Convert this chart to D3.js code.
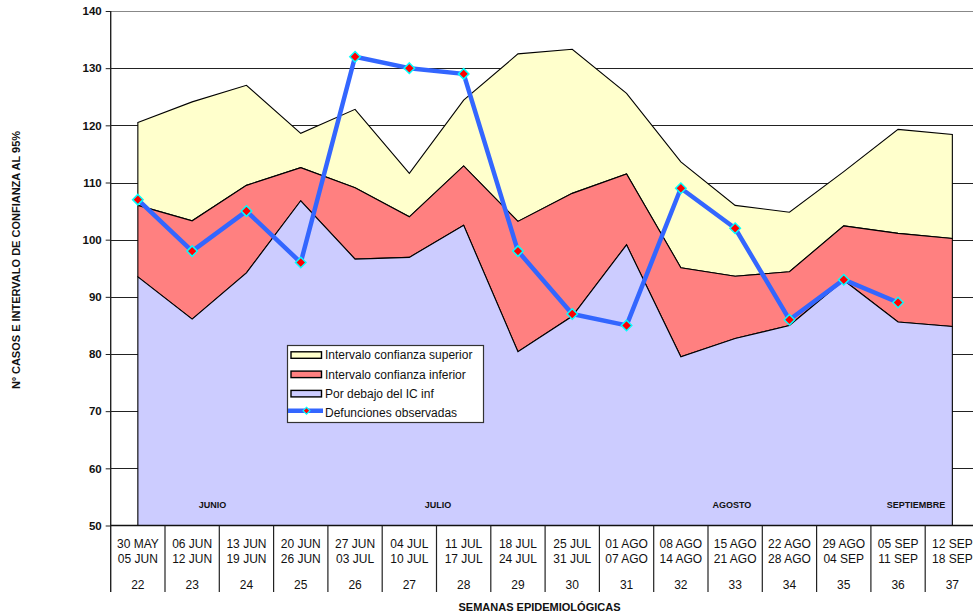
<!DOCTYPE html>
<html>
<head>
<meta charset="utf-8">
<script src="https://cdn.jsdelivr.net/npm/d3@7"></script>
<style>
  body { margin: 0; background: #fff; }
  svg { display: block; font-family: Arial, "Liberation Sans", sans-serif; }
</style>
</head>
<body>
<div id="root"></div>
<script>
// semanas epidemiologicas
var semanas = [22, 23, 24, 25, 26, 27, 28, 29, 30, 31, 32, 33, 34, 35, 36, 37];
var fechaIni = ["30 MAY", "06 JUN", "13 JUN", "20 JUN", "27 JUN", "04 JUL", "11 JUL", "18 JUL",
                "25 JUL", "01 AGO", "08 AGO", "15 AGO", "22 AGO", "29 AGO", "05 SEP", "12 SEP"];
var fechaFin = ["05 JUN", "12 JUN", "19 JUN", "26 JUN", "03 JUL", "10 JUL", "17 JUL", "24 JUL",
                "31 JUL", "07 AGO", "14 AGO", "21 AGO", "28 AGO", "04 SEP", "11 SEP", "18 SEP"];

// niveles de cada banda (valor absoluto del borde superior)
var icInf  = [93.5, 86.1, 94.2, 106.8, 96.6, 96.9, 102.5, 80.4, 86.6, 99.1, 79.5, 82.7, 85.0, 92.9, 85.6, 84.8];
var media  = [106.0, 103.3, 109.5, 112.6, 109.1, 104.0, 112.9, 103.2, 108.1, 111.5, 95.1, 93.6, 94.4, 102.4, 101.1, 100.2];
var icSup  = [120.5, 124.1, 127.0, 118.6, 122.8, 111.6, 124.4, 132.5, 133.3, 125.6, 113.6, 106.0, 104.8, 111.9, 119.3, 118.4];
var defunciones = [107, 98, 105, 96, 132, 130, 129, 98, 87, 85, 109, 102, 86, 93, 89, null];

var yTicks = [50, 60, 70, 80, 90, 100, 110, 120, 130, 140];

// meses (posicion en semanas)
var meses = ["JUNIO", "JULIO", "AGOSTO", "SEPTIEMBRE"];
var mesPos = [23.375, 27.53, 32.94, 36.33];

var legendNames = ["Intervalo confianza superior", "Intervalo confianza inferior",
                   "Por debajo del IC inf", "Defunciones observadas"];

function drawChart() {
  var W = 973, H = 613;
  var left = 110.7, top = 11, bottom = 525.5;
  var bw = 54.3;

  var svg = d3.select("#root").append("svg")
      .attr("width", W)
      .attr("height", H);

  // scales
  var x = d3.scaleBand()
      .domain(semanas)
      .range([left, left + bw * semanas.length])
      .padding(0);
  var y = d3.scaleLinear()
      .domain([50, 140])
      .range([bottom, top]);

  function cx(w) { return x(w) + x.bandwidth() / 2; }
  var xw = d3.scaleLinear().domain([22, 23]).range([cx(22), cx(23)]);

  // gridlines (behind areas)
  svg.append("g").selectAll("line")
    .data(yTicks.filter(function(d) { return d > 50; }))
    .enter().append("line")
      .attr("x1", left).attr("x2", W)
      .attr("y1", function(d) { return Math.round(y(d)) + 0.5; })
      .attr("y2", function(d) { return Math.round(y(d)) + 0.5; })
      .attr("stroke", function(d) { return d === 140 ? "#888" : "#222"; })
      .attr("stroke-width", 1);

  var idx = d3.range(semanas.length);

  function band(lo, hi, fill) {
    var area = d3.area()
        .x(function(i) { return cx(semanas[i]); })
        .y0(function(i) { return lo ? y(lo[i]) : y(50); })
        .y1(function(i) { return y(hi[i]); });
    svg.append("path")
      .datum(idx)
      .attr("d", area)
      .attr("fill", fill)
      .attr("stroke", "#000")
      .attr("stroke-width", 1.1)
      .attr("stroke-linejoin", "miter");
  }

  band(media, icSup, "#FFFFCC");
  band(icInf, media, "#FF8080");
  band(null, icInf, "#CCCCFF");

  // month labels
  svg.append("g").selectAll("text")
    .data(meses)
    .enter().append("text")
      .attr("x", function(d, i) { return xw(mesPos[i]); })
      .attr("y", 508.3)
      .attr("text-anchor", "middle")
      .attr("font-size", "9px")
      .attr("font-weight", "bold")
      .attr("fill", "#111")
      .text(function(d) { return d; });

  // observed deaths line
  var obs = idx.filter(function(i) { return defunciones[i] != null; });
  var line = d3.line()
      .x(function(i) { return cx(semanas[i]); })
      .y(function(i) { return y(defunciones[i]); });
  svg.append("path")
    .datum(obs)
    .attr("d", line)
    .attr("fill", "none")
    .attr("stroke", "#3366FF")
    .attr("stroke-width", 4.5)
    .attr("stroke-linejoin", "round");

  var diamond = d3.symbol().type(d3.symbolDiamond2).size(70);
  svg.append("g").selectAll("path")
    .data(obs)
    .enter().append("path")
      .attr("d", diamond)
      .attr("transform", function(i) { return "translate(" + cx(semanas[i]) + "," + y(defunciones[i]) + ")"; })
      .attr("fill", "#FF0000")
      .attr("stroke", "#00FFFF")
      .attr("stroke-width", 1.5);

  // y axis
  var yAxis = svg.append("g")
      .attr("transform", "translate(" + left + ",0)")
      .call(d3.axisLeft(y).tickValues(yTicks).tickSize(5).tickPadding(4));
  yAxis.select(".domain").remove();
  yAxis.selectAll(".tick line").attr("stroke", "#222");
  yAxis.selectAll("text")
      .attr("font-size", "11.5px")
      .attr("font-weight", "bold")
      .attr("font-family", "Arial, 'Liberation Sans', sans-serif")
      .attr("fill", "#111");

  svg.append("line")
    .attr("x1", left).attr("x2", left)
    .attr("y1", top).attr("y2", 592)
    .attr("stroke", "#222").attr("stroke-width", 1.4);
  svg.append("line")
    .attr("x1", left).attr("x2", W)
    .attr("y1", bottom).attr("y2", bottom)
    .attr("stroke", "#111").attr("stroke-width", 1.4);

  // category separators + labels
  var cat = svg.append("g");
  cat.selectAll("line")
    .data(semanas.slice(1).concat([null]))
    .enter().append("line")
      .attr("x1", function(d, i) { return x(semanas[i]) + bw; })
      .attr("x2", function(d, i) { return x(semanas[i]) + bw; })
      .attr("y1", bottom).attr("y2", 592)
      .attr("stroke", "#222").attr("stroke-width", 1.2);

  var lbl = cat.selectAll("g.lbl")
    .data(semanas)
    .enter().append("g")
      .attr("class", "lbl")
      .attr("transform", function(d) { return "translate(" + cx(d) + ",0)"; })
      .attr("text-anchor", "middle")
      .attr("font-size", "12px")
      .attr("fill", "#111");
  lbl.append("text").attr("y", 547.7).text(function(d, i) { return fechaIni[i]; });
  lbl.append("text").attr("y", 563.3).text(function(d, i) { return fechaFin[i]; });
  lbl.append("text").attr("y", 589.3).text(function(d) { return d; });

  // axis titles
  svg.append("text")
    .attr("x", 539.5).attr("y", 611)
    .attr("text-anchor", "middle")
    .attr("font-size", "11px")
    .attr("font-weight", "bold")
    .attr("fill", "#111")
    .text("SEMANAS EPIDEMIOLÓGICAS");

  svg.append("text")
    .attr("transform", "translate(19.5,260) rotate(-90)")
    .attr("text-anchor", "middle")
    .attr("font-size", "11px")
    .attr("font-weight", "bold")
    .attr("fill", "#111")
    .text("Nº CASOS E INTERVALO DE CONFIANZA AL 95%");

  // legend
  var lg = svg.append("g");
  lg.append("rect")
    .attr("x", 287.5).attr("y", 345.5)
    .attr("width", 196).attr("height", 77)
    .attr("fill", "#fff")
    .attr("stroke", "#333").attr("stroke-width", 1.2);

  var fills = ["#FFFFCC", "#FF8080", "#CCCCFF"];
  var rowY = [359.3, 378.6, 397.9, 417.2];
  legendNames.forEach(function(name, i) {
    if (i < 3) {
      lg.append("rect")
        .attr("x", 291).attr("y", rowY[i] - 7.5)
        .attr("width", 30.5).attr("height", 6.5)
        .attr("fill", fills[i])
        .attr("stroke", "#000").attr("stroke-width", 1.4);
    } else {
      lg.append("line")
        .attr("x1", 288).attr("x2", 323)
        .attr("y1", rowY[i] - 6.5).attr("y2", rowY[i] - 6.5)
        .attr("stroke", "#3366FF").attr("stroke-width", 4.5);
      lg.append("path")
        .attr("d", d3.symbol().type(d3.symbolDiamond2).size(30))
        .attr("transform", "translate(306.5," + (rowY[i] - 6.5) + ")")
        .attr("fill", "#FF0000")
        .attr("stroke", "#00FFFF").attr("stroke-width", 1.2);
    }
    lg.append("text")
      .attr("x", 325).attr("y", rowY[i])
      .attr("font-size", "12px")
      .attr("fill", "#111")
      .text(name);
  });
}

drawChart();
</script>
</body>
</html>
